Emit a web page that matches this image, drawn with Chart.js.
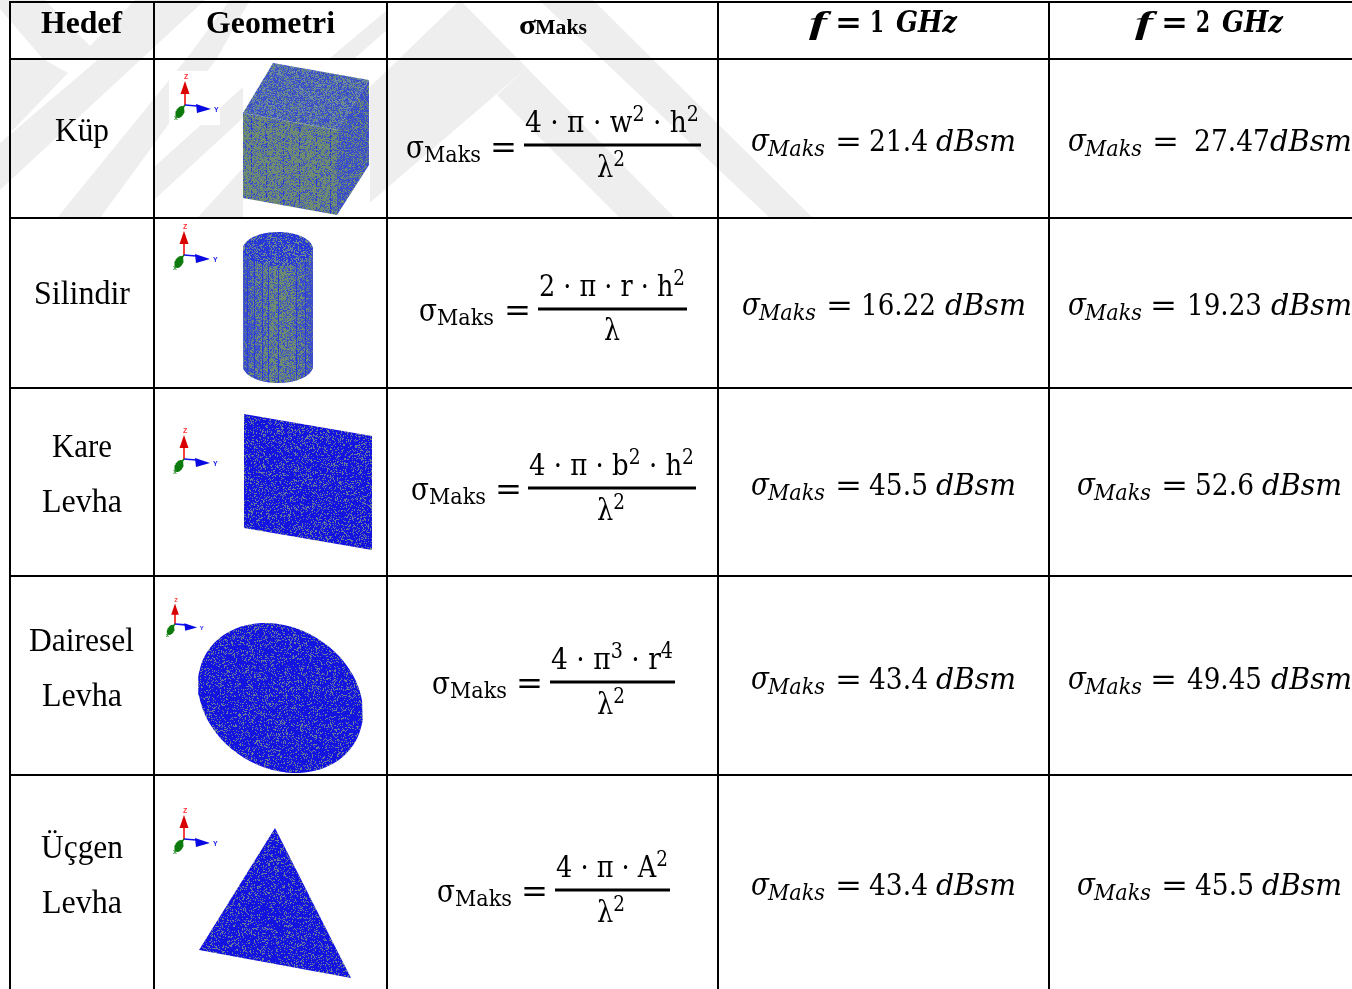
<!DOCTYPE html>
<html lang="tr">
<head>
<meta charset="utf-8">
<title>Hedef tablosu</title>
<script src="https://cdn.jsdelivr.net/npm/chart.js@4/dist/chart.umd.js"></script>
<style>html,body{margin:0;padding:0;background:#fff}canvas{display:block}</style>
</head>
<body>
<canvas id="c" width="1352" height="989"></canvas>
<script>
// ---- values ----
const headers = ['Hedef', 'Geometri'];
const frequencies = [1, 2];
const targetLines = [['Küp'], ['Silindir'], ['Kare', 'Levha'], ['Dairesel', 'Levha'], ['Üçgen', 'Levha']];
const numerators = [
  [['4 · π · w', 0], ['2', 1], [' · h', 0], ['2', 1]],
  [['2 · π · r · h', 0], ['2', 1]],
  [['4 · π · b', 0], ['2', 1], [' · h', 0], ['2', 1]],
  [['4 · π', 0], ['3', 1], [' · r', 0], ['4', 1]],
  [['4 · π · A', 0], ['2', 1]]
];
const denominators = [
  [['λ', 0], ['2', 1]], [['λ', 0]], [['λ', 0], ['2', 1]], [['λ', 0], ['2', 1]], [['λ', 0], ['2', 1]]
];
const sigma1GHz = ['21.4', '16.22', '45.5', '43.4', '43.4'];
const sigma2GHz = ['27.47', '19.23', '52.6', '49.45', '45.5'];
const columnEdges = [10, 154, 387, 718, 1049];
const rowEdges = [2, 59, 218, 388, 576, 775];

// ---- chart-unit geometry of the mesh silhouettes ----
const cubeTop = [[273,63],[369,80],[337,130],[243,113]];
const cubeFront = [[243,113],[337,130],[337,215],[243,198]];
const cubeSide = [[337,130],[369,80],[369,165],[337,215]];
const plate = [[244,414],[372,436],[372,550],[244,528]];
const triangle = [[275,828],[351,978],[199,950]];
const watermark = [
  [[0,0],[45,0],[90,46],[135,0],[168,0],[99,59],[43,59],[0,9]],
  [[10,59],[43,59],[68,73],[10,133]],
  [[168,0],[205,0],[0,190],[0,143]],
  [[230,0],[187,58],[57,218],[100,218],[217,58],[250,0]],
  [[154,167],[243,87],[243,118],[154,200]],
  [[197,218],[243,168],[243,218]],
  [[330,58],[387,10],[387,30],[355,58]],
  [[460,0],[527,68],[352,218],[234,218]],
  [[527,68],[497,95],[620,218],[675,218]],
  [[539,0],[593,0],[813,218],[770,218]]
];
const triadOrigins = [[185,105,1],[184,255,1],[184,459,1],[175,624,0.85],[184,839,1]];

// ---- helpers ----
function ellipse(cx, cy, a, b, rot) {
  const pts = [];
  for (let i = 0; i < 72; i++) {
    const t = i / 72 * 2 * Math.PI, u = a * Math.cos(t), v = b * Math.sin(t);
    pts.push([cx + u * Math.cos(rot) - v * Math.sin(rot), cy + u * Math.sin(rot) + v * Math.cos(rot)]);
  }
  return pts;
}
function hash(x, y) {
  let h = (x * 374761393 + y * 668265263) | 0;
  h = Math.imul(h ^ (h >>> 13), 1274126177);
  return ((h ^ (h >>> 16)) >>> 0) / 4294967296;
}
function mesh(x0, y0, x1, y1, paint) {
  const cv = document.createElement('canvas');
  cv.width = 1352; cv.height = 989;
  const g = cv.getContext('2d');
  for (let y = y0; y < y1; y++) for (let x = x0; x < x1; x++) {
    g.fillStyle = paint(x, y, hash(x, y));
    g.fillRect(x, y, 1, 1);
  }
  return document.getElementById('c').getContext('2d').createPattern(cv, 'no-repeat');
}
const BLUE = '#3a4fc8', DEEP = '#2838d8', OLIVE = '#6f8a72', SOLID = '#1414e0', SPECK = '#6a7a98';
const stripes = [251, 266, 283, 299, 316, 330];
const texCubeTop = mesh(240, 60, 372, 135, (x, y, n) => n < 0.5 ? BLUE : (n < 0.75 ? '#6f88a8' : '#66887e'));
const texCubeFront = mesh(240, 110, 340, 218, (x, y, n) => stripes.some(s => Math.abs(x - s) < 1) ? (n < 0.6 ? DEEP : OLIVE) : (n < 0.26 ? BLUE : OLIVE));
const texCubeSide = mesh(335, 78, 372, 218, (x, y, n) => n < 0.68 ? BLUE : OLIVE);
const cylStripes = [247, 254, 262, 268, 278, 296, 305];
const texCylSide = mesh(240, 245, 315, 386, (x, y, n) => {
  const u = Math.abs(x - 278) / 35;
  if (cylStripes.some(s => Math.abs(x - s) < 1)) return n < 0.75 ? DEEP : BLUE;
  return n < 0.32 + 0.6 * u * u ? BLUE : OLIVE;
});
const texCylTop = mesh(240, 230, 315, 266, (x, y, n) => n < 0.68 ? DEEP : '#6f8a8c');
const solidTex = (a, b, c, d, p) => mesh(a, b, c, d, (x, y, n) => n < p ? SPECK : SOLID);
const texPlate = solidTex(242, 412, 374, 552, 0.22);
const texDisc = solidTex(195, 620, 366, 776, 0.2);
const texTri = solidTex(196, 826, 354, 980, 0.2);

const datasets = [];
function poly(pts, fill) {
  datasets.push({ data: pts.map(p => ({ x: p[0], y: p[1] })), showLine: true, fill: 'shape', backgroundColor: fill,
    borderWidth: 0, borderColor: 'transparent', pointRadius: 0, tension: 0 });
}
function seg(pts, color, w) {
  datasets.push({ data: pts.map(p => ({ x: p[0], y: p[1] })), showLine: true, fill: false, borderColor: color,
    borderWidth: w, pointRadius: 0, tension: 0, borderCapStyle: 'butt' });
}
// painter's order: built back-to-front, reversed at the end
watermark.forEach(p => poly(p, '#eeeeee'));
poly([[243,63],[370,63],[370,217],[243,217]], '#ffffff');
poly([[169,71],[220,71],[220,125],[169,125]], '#ffffff');
poly(cubeTop, texCubeTop); poly(cubeFront, texCubeFront); poly(cubeSide, texCubeSide);
poly([[243,249],[243,366]].concat(ellipse(278, 366, 35, 17, 0).slice(0, 37).reverse(), [[313,249]]), texCylSide);
poly(ellipse(278, 249, 35, 17, 0), texCylTop);
poly(plate, texPlate);
poly(ellipse(280.5, 698, 86.7, 70.1, 31.5 * Math.PI / 180), texDisc);
poly(triangle, texTri);
triadOrigins.forEach(([ox, oy, s]) => {
  const P = (dx, dy) => [ox + dx * s, oy + dy * s];
  seg([P(0, 0), P(0, -12)], '#f01010', 1.6);
  poly([P(0, -24), P(4.5, -11), P(-4.5, -11)], '#d80000');
  seg([P(0, 0), P(12, 1)], '#1010f0', 1.6);
  poly([P(26, 4), P(11, -1), P(12, 8)], '#0808e0');
  seg([P(0, 0), P(-4, 5)], '#108010', 1.6);
  poly(ellipse(ox - 5 * s, oy + 7 * s, 4 * s, 6.5 * s, 0.5), '#0c7a0c');
});
columnEdges.forEach(x => seg([[x, rowEdges[0] - 1], [x, 989]], '#000000', 2));
rowEdges.forEach(y => seg([[9, y], [1352, y]], '#000000', 2));

const tablePlugin = {
  id: 'tableText',
  afterDraw(chart) {
    const { ctx, scales: { x: sx, y: sy } } = chart;
    const X = v => sx.getPixelForValue(v), Y = v => sy.getPixelForValue(v);
    const SERIF = '"Liberation Serif"', MATH = '"DejaVu Serif"';
    const put = (t, x1, x2, base, font, color) => {
      ctx.save();
      ctx.font = font; ctx.fillStyle = color || '#000'; ctx.textBaseline = 'alphabetic'; ctx.textAlign = 'left';
      const k = x2 == null ? 1 : (x2 - x1) / ctx.measureText(t).width;
      ctx.translate(X(x1), Y(base)); ctx.scale(k, 1);
      ctx.fillText(t, 0, 0);
      ctx.restore();
    };
    const runs = (parts, x1, x2, base, size) => {
      const fontOf = sup => `${sup ? size * 0.72 : size}px ${MATH}`;
      let total = 0;
      ctx.save();
      parts.forEach(([t, sup]) => { ctx.font = fontOf(sup); total += ctx.measureText(t).width; });
      const k = (x2 - x1) / total;
      let cur = x1;
      parts.forEach(([t, sup]) => {
        ctx.font = fontOf(sup);
        const w = ctx.measureText(t).width * k;
        put(t, cur, cur + w, sup ? base - size * 0.36 : base, fontOf(sup));
        cur += w;
      });
      ctx.restore();
    };
    // header
    put(headers[0], 41, 122, 33, `bold 32px ${SERIF}`);
    put(headers[1], 206, 335, 33, `bold 32px ${SERIF}`);
    put('σ', 519, 536, 34, `bold 28px ${SERIF}`);
    put('Maks', 535, 587, 34, `bold 21px ${SERIF}`);
    [[811, 838, 870, 896], [1137, 1164, 1196, 1222]].forEach((c, i) => {
      put('f', c[0] - 2, c[0] + 16, 33, `italic bold 32px ${SERIF}`);
      put('=', c[1] - 3, c[1] + 24, 32, `bold 29px ${MATH}`);
      put(String(frequencies[i]), c[2], c[2] + 14, 32, `bold 29px ${MATH}`);
      put('GHz', c[3], c[3] + 61, 32, `italic bold 29px ${MATH}`);
    });
    // first column
    const nameSpans = [
      [[55, 109, 141]], [[34, 130, 304]], [[52, 112, 457], [42, 122, 512]],
      [[29, 134, 651], [42, 122, 706]], [[41, 123, 858], [42, 122, 913]]
    ];
    targetLines.forEach((lines, r) => lines.forEach((t, i) => {
      const [a, b, base] = nameSpans[r][i];
      put(t, a, b, base, `33px ${SERIF}`);
    }));
    // formulas
    const f = [
      [406, 493, 524, 701, 145, 132, 177, 158],
      [419, 507, 538, 687, 309, 296, 340, 321],
      [411, 498, 528, 696, 488, 475, 520, 500],
      [432, 519, 550, 675, 682, 669, 714, 694],
      [437, 524, 555, 670, 890, 877, 922, 902]
    ];
    f.forEach((g, r) => {
      const [sx0, eq, b0, b1, by, nb, db, sb] = g;
      put('σ', sx0, sx0 + 18, sb, `31px ${MATH}`);
      put('Maks', sx0 + 18, sx0 + 75, sb + 4, `23px ${MATH}`);
      put('=', eq - 3, eq + 24, sb, `31px ${MATH}`);
      ctx.save(); ctx.strokeStyle = '#000'; ctx.lineWidth = 3;
      ctx.beginPath(); ctx.moveTo(X(b0), Y(by)); ctx.lineTo(X(b1), Y(by)); ctx.stroke(); ctx.restore();
      runs(numerators[r], b0 + 1, b1 - 2, nb, 30);
      const dw = denominators[r].length > 1 ? [597, 625] : [604, 620];
      runs(denominators[r], dw[0], dw[1], db, 30);
    });
    // value cells
    const cell = (s, eq, n0, n1, u0, u1, base, val) => {
      put('σ', s, s + 18, base, `italic 31px ${MATH}`);
      put('Maks', s + 17, s + 74, base + 5, `italic 23px ${MATH}`);
      put('=', eq - 3, eq + 24, base, `30px ${MATH}`);
      put(val, n0, n1, base, `30px ${MATH}`);
      put('dBsm', u0, u1, base, `italic 30px ${MATH}`);
    };
    cell(751, 838, 869, 928, 936, 1016, 151, sigma1GHz[0]);
    cell(742, 829, 861, 936, 945, 1026, 315, sigma1GHz[1]);
    cell(751, 838, 869, 928, 936, 1016, 495, sigma1GHz[2]);
    cell(751, 838, 869, 928, 936, 1016, 689, sigma1GHz[3]);
    cell(751, 838, 869, 928, 936, 1016, 895, sigma1GHz[4]);
    cell(1068, 1155, 1194, 1270, 1270, 1352, 151, sigma2GHz[0]);
    cell(1068, 1153, 1187, 1262, 1271, 1352, 315, sigma2GHz[1]);
    cell(1077, 1164, 1195, 1254, 1262, 1342, 495, sigma2GHz[2]);
    cell(1068, 1153, 1187, 1262, 1271, 1352, 689, sigma2GHz[3]);
    cell(1077, 1164, 1195, 1254, 1262, 1342, 895, sigma2GHz[4]);
    // triad letters
    triadOrigins.forEach(([ox, oy, s]) => {
      const fnt = `bold ${7 * s}px "Liberation Sans"`;
      put('Z', ox - 1 * s, null, oy - 26 * s, fnt, '#ff3030');
      put('Y', ox + 29 * s, null, oy + 7 * s, fnt, '#2020f0');
      put('x', ox - 11 * s, null, oy + 15 * s, fnt, '#309030');
    });
  }
};

new Chart(document.getElementById('c'), {
  type: 'scatter',
  data: { datasets: datasets.reverse() },
  options: {
    responsive: false, animation: false, events: [],
    layout: { padding: 0 },
    plugins: { legend: { display: false }, title: { display: false }, tooltip: { enabled: false } },
    scales: {
      x: { type: 'linear', min: 0, max: 1352, display: false },
      y: { type: 'linear', min: 0, max: 989, reverse: true, display: false }
    }
  },
  plugins: [tablePlugin]
});
</script>
</body>
</html>
